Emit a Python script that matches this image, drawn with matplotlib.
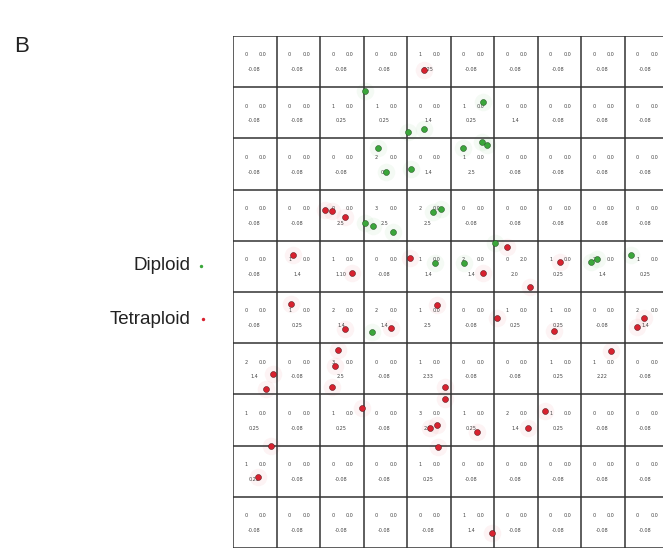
import matplotlib
matplotlib.use("Agg")
import matplotlib.pyplot as plt

# Grid of 10 x 10 map units; row 0 is the top row
n_rows, n_cols = 10, 10

# Top-left number in each unit (hit count)
counts = [
    [0, 0, 0, 0, 1, 0, 0, 0, 0, 0],
    [0, 0, 1, 1, 0, 1, 0, 0, 0, 0],
    [0, 0, 0, 2, 0, 1, 0, 0, 0, 0],
    [0, 0, 0, 3, 2, 0, 0, 0, 0, 0],
    [0, 1, 1, 0, 1, 2, 0, 1, 2, 1],
    [0, 1, 2, 2, 1, 0, 1, 1, 0, 2],
    [2, 0, 3, 0, 1, 0, 0, 1, 1, 0],
    [1, 0, 1, 0, 3, 1, 2, 1, 0, 0],
    [1, 0, 0, 0, 1, 0, 0, 0, 0, 0],
    [0, 0, 0, 0, 0, 1, 0, 0, 0, 0],
]

# Top-right value in each unit
top_right = [["0.0"] * 10 for _ in range(10)]
top_right[4][6] = "2.0"

# Bottom value in each unit
bottom = [
    ["-0.08", "-0.08", "-0.08", "-0.08", "0.25", "-0.08", "-0.08", "-0.08", "-0.08", "-0.08"],
    ["-0.08", "-0.08", "0.25", "0.25", "1.4", "0.25", "1.4", "-0.08", "-0.08", "-0.08"],
    ["-0.08", "-0.08", "-0.08", "0.8", "1.4", "2.5", "-0.08", "-0.08", "-0.08", "-0.08"],
    ["-0.08", "-0.08", "2.5", "2.5", "2.5", "-0.08", "-0.08", "-0.08", "-0.08", "-0.08"],
    ["-0.08", "1.4", "1.10", "-0.08", "1.4", "1.4", "2.0", "0.25", "1.4", "0.25"],
    ["-0.08", "0.25", "1.4", "1.4", "2.5", "-0.08", "0.25", "0.25", "-0.08", "1.4"],
    ["1.4", "-0.08", "2.5", "-0.08", "2.33", "-0.08", "-0.08", "0.25", "2.22", "-0.08"],
    ["0.25", "-0.08", "0.25", "-0.08", "2.5", "0.25", "1.4", "0.25", "-0.08", "-0.08"],
    ["0.25", "-0.08", "-0.08", "-0.08", "0.25", "-0.08", "-0.08", "-0.08", "-0.08", "-0.08"],
    ["-0.08", "-0.08", "-0.08", "-0.08", "-0.08", "1.4", "-0.08", "-0.08", "-0.08", "-0.08"],
]

# Sample positions on the map (column units, row units)
diploid_x = [3.03, 4.02, 4.39, 3.33, 5.74, 5.29, 5.72, 5.84, 3.52, 4.09, 3.03,
             3.22, 3.68, 4.60, 4.78, 4.64, 5.31, 6.02, 8.23, 8.37, 9.15, 3.19]
diploid_y = [1.07, 1.87, 1.82, 2.18, 1.29, 2.19, 2.08, 2.13, 2.66, 2.60, 3.65,
             3.71, 3.83, 3.44, 3.38, 4.43, 4.43, 4.04, 4.41, 4.36, 4.28, 5.78]

tetraploid_x = [4.39, 2.11, 2.28, 2.57, 1.38, 2.74, 4.07, 6.29, 5.75, 7.52, 6.83,
                1.33, 2.57, 3.63, 4.70, 6.08, 7.38, 9.45, 9.29, 2.42, 2.34, 2.28,
                0.91, 0.75, 8.68, 4.87, 4.87, 2.97, 7.17, 4.53, 4.68, 0.87, 4.72,
                5.60, 6.79, 0.58, 5.95]
tetraploid_y = [0.66, 3.40, 3.42, 3.53, 4.28, 4.63, 4.33, 4.13, 4.63, 4.42, 4.90,
                5.23, 5.72, 5.70, 5.25, 5.51, 5.76, 5.51, 5.69, 6.13, 6.45, 6.86,
                6.61, 6.89, 6.15, 6.86, 7.09, 7.27, 7.32, 7.66, 7.60, 8.01, 8.02,
                7.73, 7.65, 8.61, 9.71]

green = "#3aa63a"
red = "#d8212f"
label_font = ["Liberation Sans", "DejaVu Sans"]

W, H = 663, 550
fig = plt.figure(figsize=(W / 100, H / 100), dpi=100)

# Map axes placed in pixel units (its right border runs past the figure edge)
left_px, right_px, top_px, bottom_px = 233, 668, 36, 548
ax = fig.add_axes([left_px / W, 1 - bottom_px / H,
                   (right_px - left_px) / W, (bottom_px - top_px) / H])
ax.set_xlim(0, n_cols)
ax.set_ylim(n_rows, 0)
ax.axis("off")

# Grid lines
line_kw = dict(color="#333333", lw=1.1, zorder=2)
for c in range(n_cols + 1):
    ax.plot([c, c], [0, n_rows], **line_kw)
for r in range(n_rows + 1):
    ax.plot([0, n_cols], [r, r], **line_kw)

# Cell annotations
txt_kw = dict(fontsize=3.5, color="#444444", ha="center", va="center", zorder=3)
for r in range(n_rows):
    for c in range(n_cols):
        ax.text(c + 0.30, r + 0.37, str(counts[r][c]), **txt_kw)
        ax.text(c + 0.68, r + 0.37, top_right[r][c], **txt_kw)
        ax.text(c + 0.48, r + 0.66, bottom[r][c], **txt_kw)

# Faint halos around samples
ax.scatter(diploid_x, diploid_y, s=160, color=green, alpha=0.05, lw=0, zorder=1)
ax.scatter(tetraploid_x, tetraploid_y, s=160, color=red, alpha=0.05, lw=0, zorder=1)

# Samples
ax.scatter(diploid_x, diploid_y, s=18, color=green, edgecolors="#2a5a2a",
           linewidths=0.4, zorder=4)
ax.scatter(tetraploid_x, tetraploid_y, s=18, color=red, edgecolors="#5a1a1f",
           linewidths=0.4, zorder=4)

# Legend labels
fig.text(191 / W, 1 - 265 / H, "Diploid", ha="right", va="center",
         fontsize=13.5, color="#222222", family=label_font)
fig.text(191 / W, 1 - 319 / H, "Tetraploid", ha="right", va="center",
         fontsize=13.5, color="#222222", family=label_font)
lax = fig.add_axes([0, 0, 1, 1], zorder=-1)
lax.set_xlim(0, W)
lax.set_ylim(H, 0)
lax.axis("off")
lax.scatter([201], [266], s=6, color=green, lw=0)
lax.scatter([203], [319], s=6, color=red, lw=0)

fig.text(14 / W, 1 - 46 / H, "B", ha="left", va="center", fontsize=16,
         color="#222222", family=label_font)

fig.savefig("out.png", dpi=100, facecolor="white")
